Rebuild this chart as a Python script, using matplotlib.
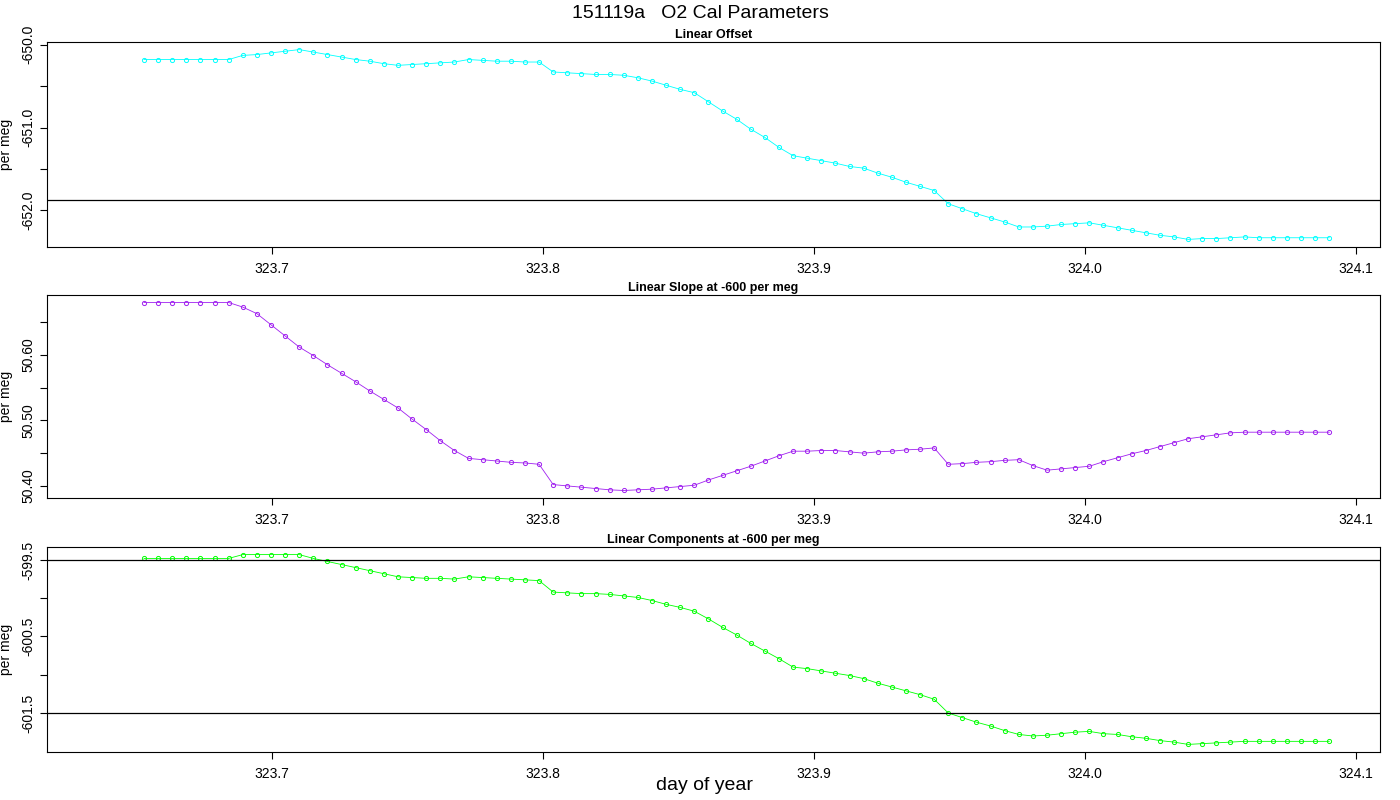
import numpy as np
import matplotlib
matplotlib.use("Agg")
import matplotlib.pyplot as plt
from matplotlib.ticker import FixedLocator, FormatStrFormatter

# ---- data ----
t_start = 323.6527          # day of year of first sample
t_step = 0.0052068          # 7.5 minute sampling interval
n_pts = 85
day = t_start + t_step * np.arange(n_pts)

linear_offset = [
    -650.18, -650.18, -650.18, -650.18, -650.18, -650.18, -650.18,
    -650.13, -650.12, -650.10, -650.08, -650.06, -650.09, -650.12, -650.15,
    -650.18, -650.20, -650.23, -650.25, -650.24, -650.23, -650.22, -650.21,
    -650.18, -650.19, -650.20, -650.20, -650.21, -650.21, -650.33, -650.34,
    -650.35, -650.36, -650.36, -650.37, -650.40, -650.44, -650.49, -650.54,
    -650.58, -650.69, -650.80, -650.90, -651.02, -651.12, -651.24, -651.34,
    -651.37, -651.40, -651.43, -651.47, -651.49, -651.55, -651.60, -651.66,
    -651.71, -651.76, -651.92, -651.98, -652.04, -652.09, -652.14, -652.20,
    -652.20, -652.19, -652.17, -652.16, -652.15, -652.18, -652.21, -652.24,
    -652.27, -652.30, -652.32, -652.35, -652.34, -652.34, -652.33, -652.32,
    -652.33, -652.33, -652.33, -652.33, -652.33, -652.33]

linear_slope = [
    50.680, 50.680, 50.680, 50.680, 50.680, 50.680, 50.680,
    50.673, 50.663, 50.646, 50.629, 50.612, 50.599, 50.585, 50.572,
    50.559, 50.545, 50.532, 50.519, 50.502, 50.486, 50.469, 50.454,
    50.442, 50.440, 50.438, 50.436, 50.435, 50.433, 50.402, 50.400,
    50.398, 50.396, 50.394, 50.393, 50.394, 50.395, 50.397, 50.399,
    50.401, 50.409, 50.416, 50.423, 50.430, 50.438, 50.446, 50.453,
    50.453, 50.454, 50.454, 50.452, 50.450, 50.452, 50.453, 50.455,
    50.456, 50.458, 50.433, 50.434, 50.436, 50.437, 50.439, 50.440,
    50.431, 50.424, 50.426, 50.428, 50.430, 50.437, 50.443, 50.449,
    50.454, 50.460, 50.466, 50.472, 50.475, 50.478, 50.481, 50.482,
    50.482, 50.482, 50.482, 50.482, 50.482, 50.482]

linear_components = [
    -599.48, -599.48, -599.48, -599.48, -599.48, -599.48, -599.48,
    -599.43, -599.43, -599.43, -599.43, -599.43, -599.48, -599.52, -599.56,
    -599.60, -599.64, -599.68, -599.72, -599.73, -599.74, -599.74, -599.75,
    -599.72, -599.73, -599.74, -599.75, -599.76, -599.77, -599.92, -599.93,
    -599.94, -599.94, -599.95, -599.97, -599.99, -600.03, -600.08, -600.12,
    -600.17, -600.27, -600.38, -600.48, -600.59, -600.69, -600.79, -600.90,
    -600.92, -600.95, -600.98, -601.01, -601.05, -601.11, -601.16, -601.21,
    -601.26, -601.32, -601.50, -601.56, -601.62, -601.67, -601.73, -601.78,
    -601.80, -601.79, -601.77, -601.75, -601.74, -601.77, -601.78, -601.81,
    -601.83, -601.86, -601.88, -601.91, -601.90, -601.89, -601.88, -601.87,
    -601.87, -601.87, -601.87, -601.87, -601.87, -601.87]

offset_ref = [-651.88]
components_ref = [-599.5, -601.5]

x_ticks = [323.7, 323.8, 323.9, 324.0, 324.1]
p1_major = [-650.0, -651.0, -652.0]
p1_minor = [-650.5, -651.5]
p2_major = [50.40, 50.50, 50.60]
p2_minor = [50.45, 50.55, 50.65]
p3_major = [-599.5, -600.5, -601.5]
p3_minor = [-600.0, -601.0]

panels = [
    ("Linear Offset", linear_offset, "#00FFFF", offset_ref, p1_major, p1_minor, "%.1f"),
    ("Linear Slope at -600 per meg", linear_slope, "#A020F0", [], p2_major, p2_minor, "%.2f"),
    ("Linear Components at -600 per meg", linear_components, "#00FF00", components_ref, p3_major, p3_minor, "%.1f"),
]

fig = plt.figure(figsize=(14, 8), dpi=100)
plt.rcParams["font.family"] = "Liberation Sans"
rects = [
    [47/1400, 1-247/800, 1333/1400, 205/800],
    [47/1400, 1-498/800, 1333/1400, 203/800],
    [47/1400, 1-752/800, 1333/1400, 205/800],
]
for rect, (title, vals, col, refs, maj, mnr, fmt) in zip(rects, panels):
    ax = fig.add_axes(rect)
    ax.plot(day, vals, color=col, lw=0.6, marker="o", ms=3.0, mfc="none",
            mec=col, mew=0.7)
    for r in refs:
        ax.axhline(r, color="black", lw=0.9)
    ax.set_xlim(323.6169, 324.1088)
    ax.margins(y=0.04)
    ax.set_xticks(x_ticks)
    ax.xaxis.set_major_formatter(FormatStrFormatter("%.1f"))
    ax.yaxis.set_major_locator(FixedLocator(maj))
    ax.yaxis.set_minor_locator(FixedLocator(mnr))
    ax.yaxis.set_major_formatter(FormatStrFormatter(fmt))
    ax.tick_params(axis="both", which="both", direction="out", length=5,
                   width=0.8, labelsize=10)
    ax.tick_params(axis="x", pad=6)
    for lbl in ax.get_yticklabels():
        lbl.set_rotation(90)
        lbl.set_va("center")
    ax.set_ylabel("per meg", fontsize=10, labelpad=6)
    ax.set_title(title, fontsize=9, fontweight="bold", pad=3)
    for s in ax.spines.values():
        s.set_linewidth(0.8)

fig.text(0.5, 0.983, "151119a   O2 Cal Parameters", ha="center", va="center", fontsize=14)
fig.text(0.503, 0.018, "day of year", ha="center", va="center", fontsize=14)
fig.savefig("out.png", dpi=100)
